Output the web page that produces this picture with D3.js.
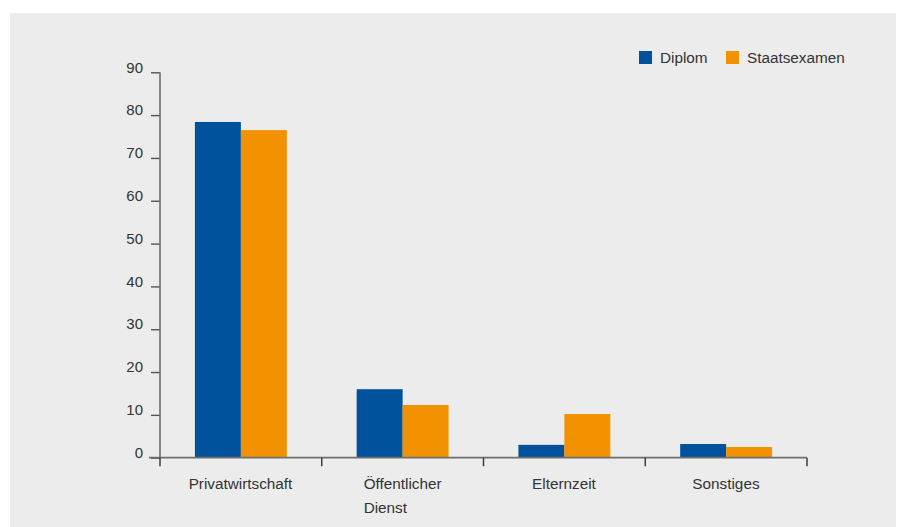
<!DOCTYPE html>
<html>
<head>
<meta charset="utf-8">
<script src="https://cdn.jsdelivr.net/npm/d3@7"></script>
<style>
  html, body { margin: 0; padding: 0; background: #ffffff; }
  svg { display: block; font-family: "Liberation Sans", Arial, Helvetica, sans-serif; }
</style>
</head>
<body>
<svg id="chart" width="897" height="527"></svg>
<script>
// Categories (line breaks marked with \n) and the two series
const categories = ["Privatwirtschaft", "Öffentlicher\nDienst", "Elternzeit", "Sonstiges"];
const seriesNames = ["Diplom", "Staatsexamen"];
const diplom = [78.4, 16.0, 3.0, 3.2];
const staatsexamen = [76.5, 12.3, 10.2, 2.5];
const yTicks = [0, 10, 20, 30, 40, 50, 60, 70, 80, 90];
const colors = ["#00529c", "#f39200"];

const svg = d3.select("#chart");

// panel background
svg.append("rect")
  .attr("x", 10).attr("y", 13)
  .attr("width", 886).attr("height", 514)
  .attr("fill", "#ebeceb");

const rows = categories.map((c, i) => ({ cat: c, values: [diplom[i], staatsexamen[i]] }));

const x0 = d3.scaleBand().domain(categories).range([160, 807]).paddingInner(0).paddingOuter(0);
const x1 = d3.scaleBand().domain(seriesNames).range([0, x0.bandwidth()]).paddingInner(0).paddingOuter(0.76);
const y = d3.scaleLinear().domain([0, 90]).range([457.7, 72.3]);

// bars
const groups = svg.append("g").selectAll("g")
  .data(rows)
  .join("g")
  .attr("transform", d => `translate(${x0(d.cat)},0)`);

groups.selectAll("rect")
  .data(d => d.values.map((v, i) => ({ key: seriesNames[i], value: v, i })))
  .join("rect")
  .attr("x", d => x1(d.key))
  .attr("y", d => y(d.value))
  .attr("width", x1.bandwidth())
  .attr("height", d => y(0) - y(d.value))
  .attr("fill", d => colors[d.i]);

// y axis
const yAxis = svg.append("g").attr("transform", "translate(160,0)")
  .call(d3.axisLeft(y).tickValues(yTicks).tickSize(9).tickPadding(8));
yAxis.select(".domain").remove();
yAxis.append("line")
  .attr("x1", 0).attr("x2", 0)
  .attr("y1", y(90)).attr("y2", y(0))
  .attr("stroke", "#6e6e6e").attr("stroke-width", 1.6);
yAxis.selectAll(".tick line").attr("stroke", "#555").attr("stroke-width", 1.4);
yAxis.selectAll(".tick text")
  .attr("fill", "#333")
  .attr("font-size", 15)
  .attr("dy", "-0.02em")
  .attr("font-family", "Liberation Sans, Arial, sans-serif");

// x axis baseline and boundary ticks
svg.append("line")
  .attr("x1", 149).attr("x2", 807)
  .attr("y1", y(0)).attr("y2", y(0))
  .attr("stroke", "#6e6e6e").attr("stroke-width", 1.8);

const boundaries = categories.map(c => x0(c)).concat([x0(categories[categories.length - 1]) + x0.bandwidth()]);
svg.append("g").selectAll("line")
  .data(boundaries)
  .join("line")
  .attr("x1", d => d).attr("x2", d => d)
  .attr("y1", y(0)).attr("y2", y(0) + 8.5)
  .attr("stroke", "#333").attr("stroke-width", 1.4);

// category labels: block centred on the band, lines left-aligned
const labels = svg.append("g").selectAll("text")
  .data(categories)
  .join("text")
  .attr("font-size", 15.3)
  .attr("fill", "#333")
  .attr("y", 489);

labels.each(function (c) {
  const t = d3.select(this);
  const lines = c.split("\n");
  lines.forEach((ln, i) => {
    t.append("tspan").attr("x", 0).attr("dy", i === 0 ? 0 : 24).text(ln);
  });
  const w = this.getBBox().width;
  const cx = x0(c) + x0.bandwidth() / 2;
  t.selectAll("tspan").attr("x", cx - w / 2);
});

// legend
const legendX = [639, 726];
const legend = svg.append("g").selectAll("g")
  .data(seriesNames)
  .join("g")
  .attr("transform", (d, i) => `translate(${legendX[i]},51)`);
legend.append("rect")
  .attr("width", 13).attr("height", 13)
  .attr("fill", (d, i) => colors[i]);
legend.append("text")
  .attr("x", 21).attr("y", 12)
  .attr("font-size", 15.3)
  .attr("fill", "#333")
  .text(d => d);
</script>
</body>
</html>
